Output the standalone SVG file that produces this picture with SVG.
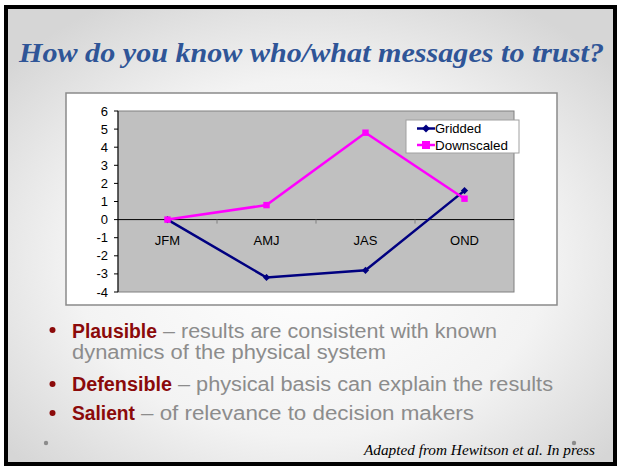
<svg xmlns="http://www.w3.org/2000/svg" width="617" height="466" viewBox="0 0 617 466">
<defs>
<radialGradient id="bg" cx="50%" cy="55%" r="65%">
<stop offset="0" stop-color="#ffffff"/>
<stop offset="0.6" stop-color="#f3f3f3"/>
<stop offset="1" stop-color="#d6d6d6"/>
</radialGradient>
<marker id="dia" viewBox="-5 -5 10 10" markerWidth="8" markerHeight="8" refX="0" refY="0" markerUnits="userSpaceOnUse">
<polygon points="0,-4.5 4.5,0 0,4.5 -4.5,0" fill="#000080"/>
</marker>
<marker id="sq" viewBox="-5 -5 10 10" markerWidth="8" markerHeight="8" refX="0" refY="0" markerUnits="userSpaceOnUse">
<rect x="-4" y="-4" width="8" height="8" fill="#ff00ff"/>
</marker>
</defs>
<style>
.ax{font-family:"Liberation Sans",Arial,sans-serif;font-size:13px;fill:#000}
.bl{font-family:"Liberation Sans",Arial,sans-serif;font-size:20px;font-weight:bold;fill:#8b0a0a}
.rg{font-family:"Liberation Sans",Arial,sans-serif;font-size:20px;fill:#8c8c8c}
.grid{stroke:#000080;stroke-width:2.5;fill:none}
.down{stroke:#ff00ff;stroke-width:2.5;fill:none}
</style>
<rect x="0" y="0" width="617" height="466" fill="#ffffff"/>
<rect x="6" y="7" width="609" height="457" fill="url(#bg)" stroke="#000" stroke-width="4"/>
<text x="19" y="62" font-family="'Liberation Serif','Times New Roman',serif" font-size="27" font-weight="bold" font-style="italic" fill="#2f5597" textLength="585" lengthAdjust="spacingAndGlyphs">How do you know who/what messages to trust?</text>

<g id="chart">
<rect x="66" y="93" width="491" height="212" fill="#ffffff" stroke="#8a8a8a" stroke-width="1.5"/>
<rect x="118" y="111" width="396" height="181" fill="#c0c0c0" stroke="#808080" stroke-width="1"/>
<line x1="118" y1="111" x2="118" y2="292" stroke="#000" stroke-width="1"/>
<line x1="118" y1="219.6" x2="514" y2="219.6" stroke="#000" stroke-width="1"/>
<g stroke="#000" stroke-width="1">
<line x1="114" y1="111" x2="118" y2="111"/><line x1="114" y1="129.1" x2="118" y2="129.1"/><line x1="114" y1="147.2" x2="118" y2="147.2"/><line x1="114" y1="165.3" x2="118" y2="165.3"/><line x1="114" y1="183.4" x2="118" y2="183.4"/><line x1="114" y1="201.5" x2="118" y2="201.5"/><line x1="114" y1="219.6" x2="118" y2="219.6"/><line x1="114" y1="237.7" x2="118" y2="237.7"/><line x1="114" y1="255.8" x2="118" y2="255.8"/><line x1="114" y1="273.9" x2="118" y2="273.9"/><line x1="114" y1="292" x2="118" y2="292"/>
</g>
<g stroke="#808080" stroke-width="1">
<line x1="217" y1="219.6" x2="217" y2="223.6"/><line x1="316" y1="219.6" x2="316" y2="223.6"/><line x1="415" y1="219.6" x2="415" y2="223.6"/>
</g>
<g class="ax" text-anchor="end">
<text x="108" y="115.5">6</text><text x="108" y="133.6">5</text><text x="108" y="151.7">4</text><text x="108" y="169.8">3</text><text x="108" y="187.9">2</text><text x="108" y="206">1</text><text x="108" y="224.1">0</text><text x="108" y="242.2">-1</text><text x="108" y="260.3">-2</text><text x="108" y="278.4">-3</text><text x="108" y="296.5">-4</text>
</g>
<g class="ax" text-anchor="middle">
<text x="167.5" y="245">JFM</text><text x="266.5" y="245">AMJ</text><text x="365.5" y="245">JAS</text><text x="464.5" y="245">OND</text>
</g>
</g>

<g id="connectors">
<polyline id="gridded" class="grid" points="167.5,219.6 266.5,277.5 365.5,270.3 464.5,190.6" marker-start="url(#dia)" marker-mid="url(#dia)" marker-end="url(#dia)"/>
<polyline id="downscaled" class="down" points="167.5,219.6 266.5,205.1 365.5,132.7 464.5,198.7" marker-start="url(#sq)" marker-mid="url(#sq)" marker-end="url(#sq)"/>
</g>

<g id="legend">
<rect x="406" y="120" width="113" height="33" fill="#ffffff" stroke="#a0a0a0" stroke-width="1"/>
<line x1="417" y1="128.5" x2="435" y2="128.5" class="grid" marker-mid="url(#dia)"/>
<polygon points="426,124.5 430,128.5 426,132.5 422,128.5" fill="#000080"/>
<line x1="417" y1="145" x2="435" y2="145" class="down"/>
<rect x="422" y="141" width="8" height="8" fill="#ff00ff"/>
<text class="ax" x="435" y="133">Gridded</text>
<text class="ax" x="435" y="149.5" textLength="73" lengthAdjust="spacingAndGlyphs">Downscaled</text>
</g>

<g id="bullets">
<circle cx="52.5" cy="330" r="3" fill="#8b0a0a"/>
<text class="bl" x="72" y="338" textLength="85" lengthAdjust="spacingAndGlyphs">Plausible</text>
<text class="rg" x="163" y="338" textLength="334" lengthAdjust="spacingAndGlyphs">– results are consistent with known</text>
<text class="rg" x="72" y="358.5" textLength="314" lengthAdjust="spacingAndGlyphs">dynamics of the physical system</text>
<circle cx="52.5" cy="384" r="3" fill="#8b0a0a"/>
<text class="bl" x="72" y="391" textLength="100" lengthAdjust="spacingAndGlyphs">Defensible</text>
<text class="rg" x="178" y="391" textLength="375" lengthAdjust="spacingAndGlyphs">– physical basis can explain the results</text>
<circle cx="52.5" cy="413" r="3" fill="#8b0a0a"/>
<text class="bl" x="72" y="420" textLength="63" lengthAdjust="spacingAndGlyphs">Salient</text>
<text class="rg" x="141" y="420" textLength="333" lengthAdjust="spacingAndGlyphs">– of relevance to decision makers</text>
</g>

<circle cx="46" cy="443" r="2.2" fill="#8c8c8c"/>
<circle cx="574" cy="443" r="2.2" fill="#8c8c8c"/>
<text x="364" y="455" font-family="'Liberation Serif','Times New Roman',serif" font-size="15" font-style="italic" fill="#000" textLength="231" lengthAdjust="spacingAndGlyphs">Adapted from Hewitson et al. In press</text>
</svg>
